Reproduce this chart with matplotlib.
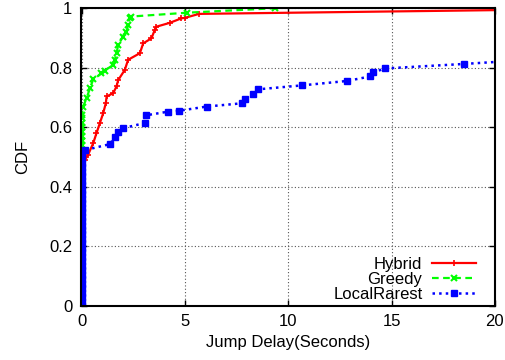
import matplotlib
matplotlib.use("Agg")
import matplotlib.pyplot as plt

plt.rcParams["font.family"] = ["Liberation Sans", "DejaVu Sans"]
plt.rcParams["font.size"] = 12

# CDF values stacked at zero delay (shared by all three series)
ZERO_CDF = [0.00, 0.015, 0.03, 0.045, 0.06, 0.075, 0.09, 0.105, 0.12, 0.135,
            0.15, 0.165, 0.18, 0.195, 0.21, 0.225, 0.24, 0.255, 0.27, 0.285,
            0.30, 0.315, 0.33, 0.345, 0.36, 0.375, 0.39, 0.405, 0.42, 0.435,
            0.45, 0.465, 0.48]

hybrid_x = [0.15, 0.30, 0.55, 0.71, 0.87, 1.03, 1.16, 1.20, 1.52, 1.68, 1.76,
            2.08, 2.24, 2.81, 2.97, 3.37, 3.53, 3.61, 4.26, 4.82, 5.00, 5.68,
            20.5]
hybrid_y = [0.49, 0.507, 0.546, 0.58, 0.613, 0.646, 0.68, 0.703, 0.714, 0.737, 0.758,
            0.792, 0.826, 0.848, 0.881, 0.898, 0.926, 0.937, 0.95, 0.965, 0.967, 0.98,
            0.993]

greedy_zero = [0.495, 0.51, 0.525, 0.54, 0.555, 0.57, 0.585, 0.60, 0.615, 0.63, 0.641]
greedy_x = [0.06, 0.23, 0.39, 0.55, 0.95, 1.11, 1.52, 1.60, 1.68, 1.76, 2.00,
            2.16, 2.24, 2.32, 2.37, 5.11, 9.35]
greedy_y = [0.669, 0.697, 0.73, 0.76, 0.78, 0.79, 0.809, 0.826, 0.848, 0.876, 0.904,
            0.92, 0.943, 0.965, 0.971, 0.984, 0.999]

local_zero = [0.495, 0.51, 0.52]
local_x = [0.15, 1.36, 1.60, 1.73, 1.97, 3.05, 3.13, 4.18, 4.70, 6.04, 7.74,
           7.90, 8.30, 8.55, 10.64, 12.85, 13.95, 14.10, 14.70, 18.50, 21.0]
local_y = [0.523, 0.543, 0.567, 0.585, 0.596, 0.614, 0.64, 0.652, 0.655, 0.669, 0.68,
           0.693, 0.711, 0.727, 0.74, 0.755, 0.77, 0.784, 0.797, 0.812, 0.823]

fig = plt.figure(figsize=(5.05, 3.6), dpi=100)
ax = fig.add_axes([0.160, 0.150, 0.820, 0.828])

hx = [0.0] * len(ZERO_CDF) + hybrid_x
hy = ZERO_CDF + hybrid_y
gx = [0.0] * (len(ZERO_CDF) + len(greedy_zero)) + greedy_x
gy = ZERO_CDF + greedy_zero + greedy_y
lx = [0.0] * (len(ZERO_CDF) + len(local_zero)) + local_x
ly = ZERO_CDF + local_zero + local_y

ax.plot(hx, hy, color="#ff0000", linestyle="-", linewidth=1.6,
        marker="+", markersize=5, markeredgewidth=1.2, label="Hybrid")
ax.plot(gx, gy, color="#00ff00", linestyle="--", linewidth=1.6,
        marker="x", markersize=5, markeredgewidth=1.5, label="Greedy",
        dashes=(3, 2))
ax.plot(lx, ly, color="#0000ff", linestyle=":", linewidth=1.8,
        marker="s", markersize=4, label="LocalRarest")

ax.set_xlim(-0.05, 20)
ax.set_ylim(0, 1)
ax.set_xticks([0, 5, 10, 15, 20])
ax.set_yticks([0, 0.2, 0.4, 0.6, 0.8, 1])
ax.set_yticklabels(["0", "0.2", "0.4", "0.6", "0.8", "1"])
ax.grid(True, color="#555555", linestyle=(0, (1, 2)), linewidth=0.8)
ax.tick_params(direction="in", top=True, right=True, length=4, width=1, pad=6)
for s in ax.spines.values():
    s.set_linewidth(1.5)

ax.set_xlabel("Jump Delay(Seconds)", labelpad=4)
ax.set_ylabel("CDF", labelpad=14)

ax.legend(loc="lower right", frameon=False, markerfirst=False,
          handlelength=2.6, handletextpad=0.6, labelspacing=0.0,
          borderaxespad=0.5, bbox_to_anchor=(0.99, -0.037))

fig.savefig("out.png", dpi=100)
